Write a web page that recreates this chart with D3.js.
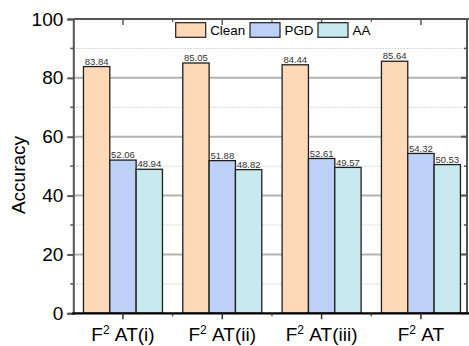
<!DOCTYPE html>
<html>
<head>
<meta charset="utf-8">
<script src="https://cdn.jsdelivr.net/npm/d3@7"></script>
<style>
  html, body { margin: 0; padding: 0; background: #fff; }
  svg { display: block; font-family: "Liberation Sans", Arial, sans-serif; }
</style>
</head>
<body>
<div id="chart"></div>
<script>
/* ═══ Grouped bar chart — accuracy of F² AT variants ═══ */

const groups = ['(i)', '(ii)', '(iii)', ''];
const seriesNames = ['Clean', 'PGD', 'AA'];
const cleanValues = [83.84, 85.05, 84.44, 85.64];
const pgdValues   = [52.06, 51.88, 52.61, 54.32];
const aaValues    = [48.94, 48.82, 49.57, 50.53];
const yMajorTicks = [0, 20, 40, 60, 80, 100];
const yMinorTicks = [10, 30, 50, 70, 90];

const COLORS = { Clean: '#fed9b8', PGD: '#bdd0f7', AA: '#c8eaee' };

const W = 469, H = 346;
const M = { left: 73.3, top: 19, right: 467, bottom: 313.3 };

const svg = d3.select('#chart').append('svg')
  .attr('width', W).attr('height', H);

// ── Scales ──
const x = d3.scaleBand().domain(groups).range([M.left, 470.6]).paddingInner(0).paddingOuter(0);
const xSeries = d3.scaleBand().domain(seriesNames).range([0, 79]);
const y = d3.scaleLinear().domain([0, 100]).range([M.bottom, M.top]);

const rows = groups.map((g, i) => ({
  group: g,
  values: [
    { name: 'Clean', v: cleanValues[i] },
    { name: 'PGD',   v: pgdValues[i] },
    { name: 'AA',    v: aaValues[i] }
  ]
}));

// ── Grid lines ──
svg.append('g').selectAll('line').data(yMinorTicks).join('line')
  .attr('x1', M.left).attr('x2', M.right)
  .attr('y1', d => y(d)).attr('y2', d => y(d))
  .attr('stroke', '#c8c8c8').attr('stroke-width', 1)
  .attr('stroke-dasharray', '1.5,1.5');

svg.append('g').selectAll('line').data(yMajorTicks.filter(d => d > 0 && d < 100)).join('line')
  .attr('x1', M.left).attr('x2', M.right)
  .attr('y1', d => y(d)).attr('y2', d => y(d))
  .attr('stroke', '#b4b4b4').attr('stroke-width', 2);

// ── Bars ──
const groupG = svg.append('g').selectAll('g').data(rows).join('g')
  .attr('transform', d => `translate(${x(d.group) + x.bandwidth() / 2 - 39.5},0)`);

groupG.selectAll('rect').data(d => d.values).join('rect')
  .attr('x', d => xSeries(d.name))
  .attr('y', d => y(d.v))
  .attr('width', xSeries.bandwidth())
  .attr('height', d => y(0) - y(d.v))
  .attr('fill', d => COLORS[d.name])
  .attr('stroke', '#1e1e1e').attr('stroke-width', 1.3);

groupG.selectAll('text').data(d => d.values).join('text')
  .attr('x', d => xSeries(d.name) + xSeries.bandwidth() / 2)
  .attr('y', d => y(d.v) - 1.8)
  .attr('text-anchor', 'middle')
  .attr('font-size', '9.5px').attr('fill', '#333')
  .text(d => d.v.toFixed(2));

// ── Frame: top & right ──
svg.append('line').attr('x1', M.left).attr('x2', W).attr('y1', M.top).attr('y2', M.top)
  .attr('stroke', '#555').attr('stroke-width', 2);
svg.append('line').attr('x1', M.right).attr('x2', M.right).attr('y1', M.top).attr('y2', M.bottom)
  .attr('stroke', '#555').attr('stroke-width', 2);

// Right-side inward ticks
svg.append('g').selectAll('line').data(yMajorTicks).join('line')
  .attr('x1', M.right - 6).attr('x2', M.right)
  .attr('y1', d => y(d)).attr('y2', d => y(d))
  .attr('stroke', '#555').attr('stroke-width', 2);
svg.append('g').selectAll('line').data(yMinorTicks).join('line')
  .attr('x1', M.right - 3).attr('x2', M.right)
  .attr('y1', d => y(d)).attr('y2', d => y(d))
  .attr('stroke', '#555').attr('stroke-width', 1.5);

// Top inward ticks
const centers = groups.map(g => x(g) + x.bandwidth() / 2);
const mids = centers.slice(1).map((c, i) => (c + centers[i]) / 2);
svg.append('g').selectAll('line').data(centers).join('line')
  .attr('x1', d => d).attr('x2', d => d)
  .attr('y1', M.top).attr('y2', M.top + 6)
  .attr('stroke', '#555').attr('stroke-width', 1.5);
svg.append('g').selectAll('line').data(mids).join('line')
  .attr('x1', d => d).attr('x2', d => d)
  .attr('y1', M.top).attr('y2', M.top + 3)
  .attr('stroke', '#555').attr('stroke-width', 1.2);

// ── Left axis ──
const yAxis = svg.append('g').attr('transform', `translate(${M.left},0)`)
  .call(d3.axisLeft(y).tickValues(yMajorTicks).tickSize(6).tickPadding(4));
yAxis.select('.domain').attr('stroke', '#555').attr('stroke-width', 2);
yAxis.selectAll('.tick line').attr('stroke', '#555').attr('stroke-width', 2);
yAxis.selectAll('.tick text').attr('font-size', '19px').attr('fill', '#000')
  .attr('font-family', '"Liberation Sans", Arial, sans-serif');

svg.append('g').selectAll('line').data(yMinorTicks).join('line')
  .attr('x1', M.left - 3).attr('x2', M.left)
  .attr('y1', d => y(d)).attr('y2', d => y(d))
  .attr('stroke', '#555').attr('stroke-width', 1.5);

// ── Bottom axis ──
svg.append('line').attr('x1', M.left - 1).attr('x2', W).attr('y1', M.bottom).attr('y2', M.bottom)
  .attr('stroke', '#000').attr('stroke-width', 2.2);
svg.append('g').selectAll('line').data(centers).join('line')
  .attr('x1', d => d).attr('x2', d => d)
  .attr('y1', M.bottom).attr('y2', M.bottom + 6)
  .attr('stroke', '#333').attr('stroke-width', 1.5);
svg.append('g').selectAll('line').data(mids).join('line')
  .attr('x1', d => d).attr('x2', d => d)
  .attr('y1', M.bottom).attr('y2', M.bottom + 3)
  .attr('stroke', '#333').attr('stroke-width', 1.2);

const xLabels = svg.append('g').selectAll('text').data(groups).join('text')
  .attr('x', d => x(d) + x.bandwidth() / 2)
  .attr('y', 341)
  .attr('text-anchor', 'middle')
  .attr('font-size', '19px').attr('fill', '#000');
xLabels.append('tspan').text('F');
xLabels.append('tspan').attr('font-size', '12px').attr('dy', '-7').text('2');
xLabels.append('tspan').attr('dy', '7').text(d => '\u00a0AT' + d);

// ── Y label ──
svg.append('text')
  .attr('transform', `translate(24.5,175) rotate(-90)`)
  .attr('text-anchor', 'middle')
  .attr('font-size', '19px').attr('fill', '#000')
  .text('Accuracy');

// ── Legend ──
const legendX = [175.7, 250, 318];
const legend = svg.append('g').selectAll('g').data(seriesNames).join('g')
  .attr('transform', (d, i) => `translate(${legendX[i]},22.7)`);
legend.append('rect')
  .attr('width', 30).attr('height', 14.6)
  .attr('fill', d => COLORS[d])
  .attr('stroke', '#1e1e1e').attr('stroke-width', 1.2);
legend.append('text')
  .attr('x', 34.5).attr('y', 12)
  .attr('font-size', '13.4px').attr('fill', '#000')
  .text(d => d);
</script>
</body>
</html>
